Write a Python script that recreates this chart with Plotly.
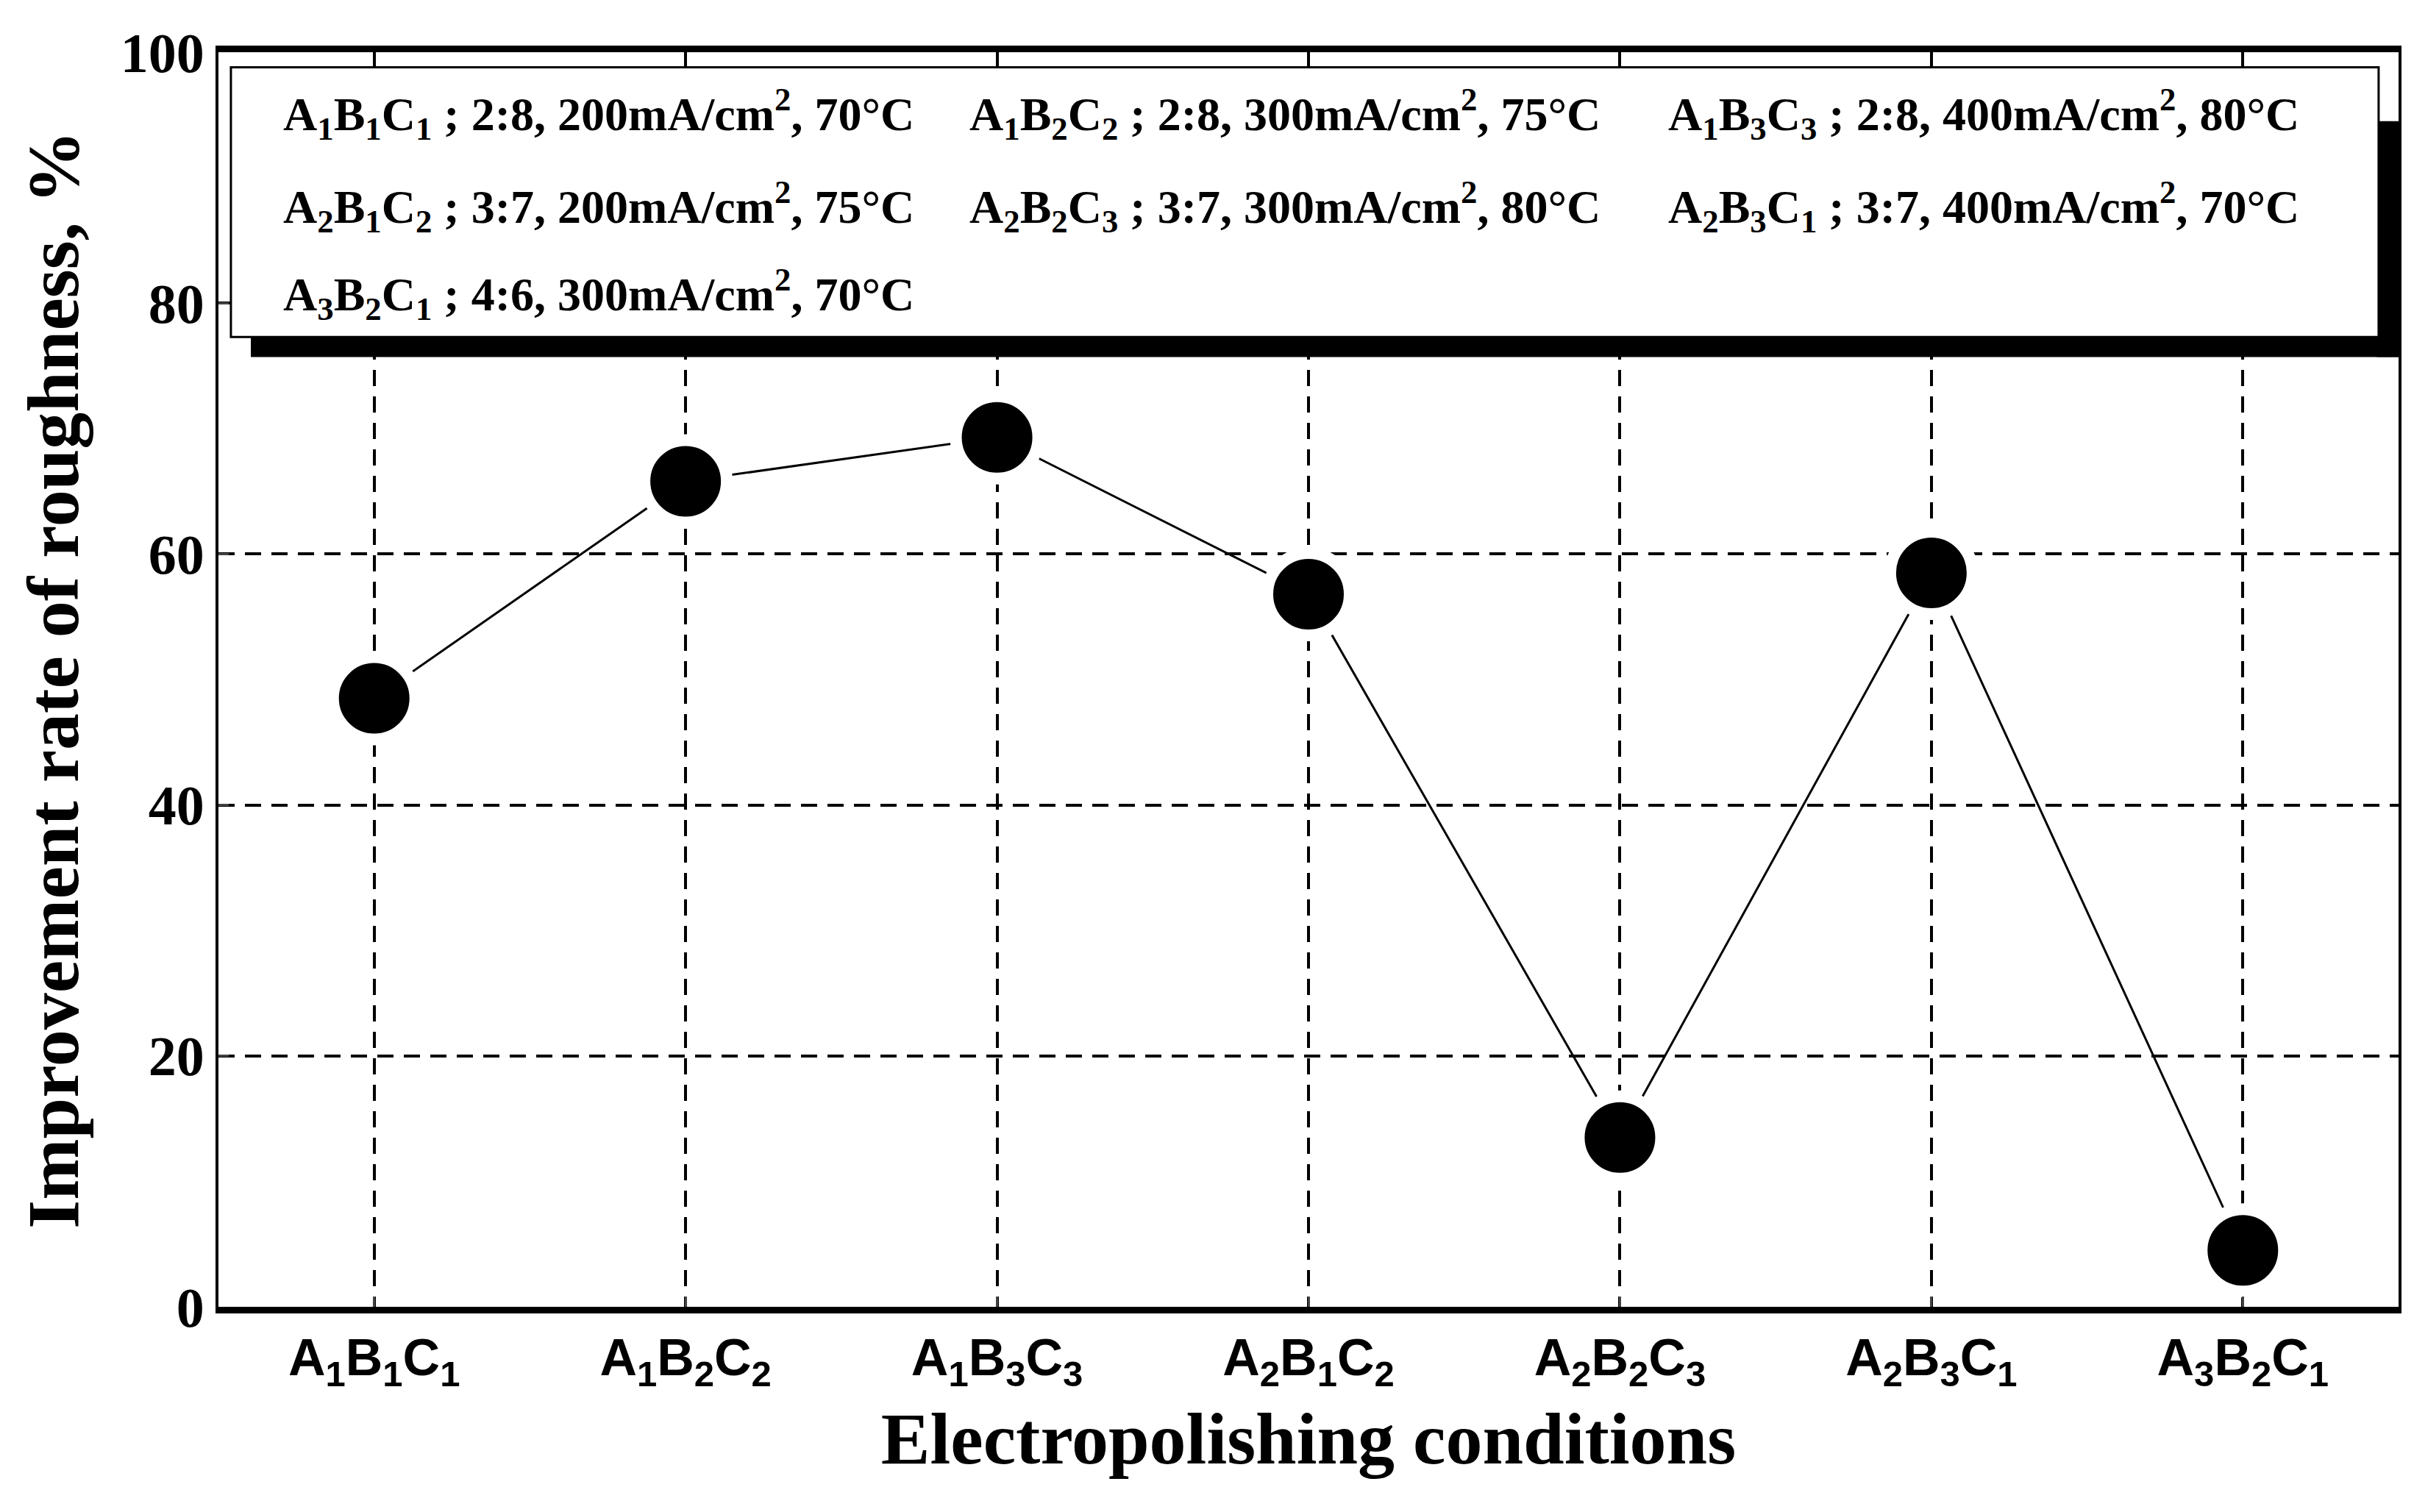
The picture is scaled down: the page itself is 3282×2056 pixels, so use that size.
import plotly.graph_objects as go

conditions = ["A<sub>1</sub>B<sub>1</sub>C<sub>1</sub>", "A<sub>1</sub>B<sub>2</sub>C<sub>2</sub>",
              "A<sub>1</sub>B<sub>3</sub>C<sub>3</sub>", "A<sub>2</sub>B<sub>1</sub>C<sub>2</sub>",
              "A<sub>2</sub>B<sub>2</sub>C<sub>3</sub>", "A<sub>2</sub>B<sub>3</sub>C<sub>1</sub>",
              "A<sub>3</sub>B<sub>2</sub>C<sub>1</sub>"]
improvement = [48.5, 65.8, 69.3, 56.8, 13.5, 58.5, 4.5]
legend_desc = ["2:8, 200mA/cm<sup>2</sup>, 70°C", "2:8, 300mA/cm<sup>2</sup>, 75°C",
               "2:8, 400mA/cm<sup>2</sup>, 80°C", "3:7, 200mA/cm<sup>2</sup>, 75°C",
               "3:7, 300mA/cm<sup>2</sup>, 80°C", "3:7, 400mA/cm<sup>2</sup>, 70°C",
               "4:6, 300mA/cm<sup>2</sup>, 70°C"]

xs = list(range(len(conditions)))
TNR = "Liberation Serif, Times New Roman, serif"

fig = go.Figure(go.Scatter(
    x=xs, y=improvement, mode="lines+markers",
    line=dict(color="black", width=3),
    marker=dict(size=112, color="black", line=dict(color="white", width=16)),
    cliponaxis=False,
))

# legend box with shadow
fig.add_shape(type="rect", x0=-0.396, x1=6.5, y0=75.7, y1=77.4, fillcolor="black", line_width=0, layer="above")
fig.add_shape(type="rect", x0=6.43, x1=6.5, y0=75.7, y1=94.5, fillcolor="black", line_width=0, layer="above")
fig.add_shape(type="rect", x0=-0.46, x1=6.436, y0=77.3, y1=98.8, fillcolor="white",
              line=dict(color="black", width=3), layer="above")

col_x = [-0.297, 1.906, 4.149]
row_y = [95.1, 87.7, 80.7]
for i, (c, d) in enumerate(zip(conditions, legend_desc)):
    fig.add_annotation(x=col_x[i % 3], y=row_y[i // 3], xanchor="left", yanchor="middle",
                       text=f"{c} ; {d}", showarrow=False,
                       font=dict(family=TNR, size=64, color="black", weight="bold"))

fig.update_layout(
    width=3282, height=2056, margin=dict(l=289, r=29, t=63, b=287),
    paper_bgcolor="white", plot_bgcolor="white", showlegend=False,
    xaxis=dict(range=[-0.5, 6.5], tickvals=xs, ticktext=conditions,
               tickfont=dict(family="Liberation Sans, Arial", size=70, color="black", weight="bold"),
               showgrid=True, gridcolor="black", griddash="22px,14px", gridwidth=4,
               showline=True, linecolor="black", linewidth=9, mirror=True,
               ticks="inside", ticklen=14, tickwidth=3, zeroline=False,
               title=dict(text="Electropolishing conditions", standoff=30,
                          font=dict(family=TNR, size=100, color="black", weight="bold"))),
    yaxis=dict(range=[0, 100], tickvals=[0, 20, 40, 60, 80, 100],
               tickfont=dict(family=TNR, size=76, color="black", weight="bold"),
               showgrid=True, gridcolor="black", griddash="22px,14px", gridwidth=4,
               showline=True, linecolor="black", linewidth=4, mirror=True,
               ticks="inside", ticklen=14, tickwidth=3, zeroline=False,
               title=dict(text="Improvement rate of roughness, %", standoff=25,
                          font=dict(family=TNR, size=100, color="black", weight="bold"))),
)

fig.write_html("out.html")
